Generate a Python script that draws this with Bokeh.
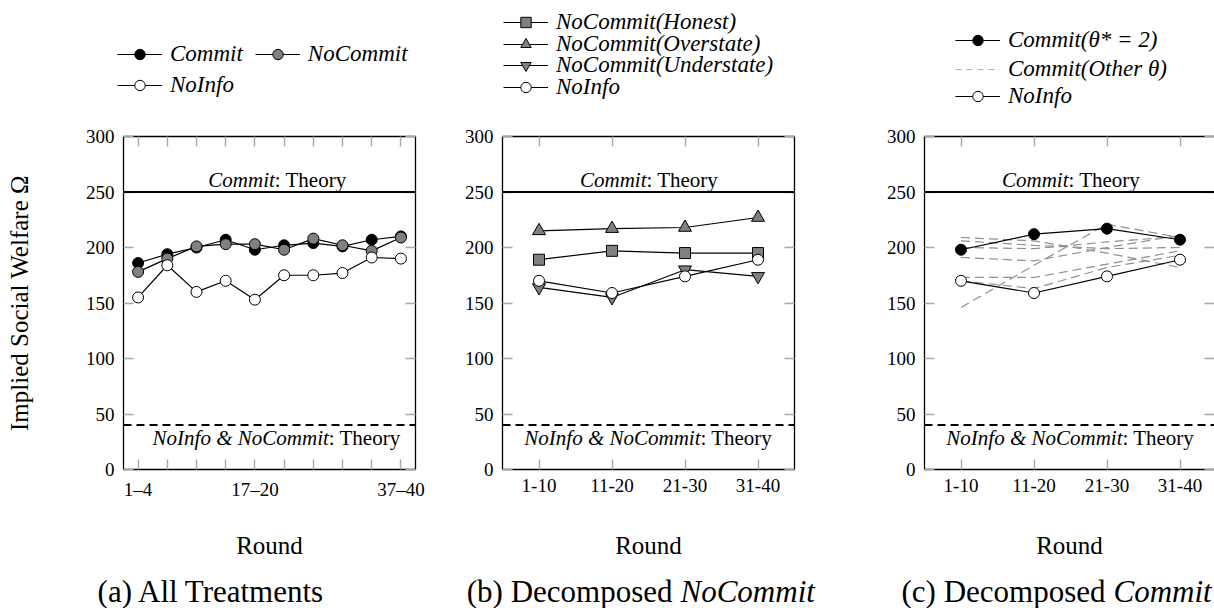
from bokeh.plotting import figure
from bokeh.layouts import row, column
from bokeh.models import LinearAxis, FixedTicker, Range1d, Span, Label, Legend, LegendItem
from bokeh.embed import file_html
from bokeh.resources import INLINE

# ---------------- data ----------------
rounds_a = ["1–4", "5–8", "9–12", "13–16", "17–20", "21–24", "25–28", "29–32", "33–36", "37–40"]
shown_a = ["1–4", "17–20", "37–40"]
commit_a = [186, 194, 200, 207, 198, 202, 204, 201, 207, 210]
nocommit_a = [178, 190, 201, 203, 203, 198, 208, 202, 197, 209]
noinfo_a = [155, 184, 160, 170, 153, 175, 175, 177, 191, 190]

rounds_bc = ["1-10", "11-20", "21-30", "31-40"]
honest_b = [189, 197, 195, 195]
overstate_b = [215, 217, 218, 227]
understate_b = [164, 155, 180, 174]
noinfo_b = [170, 159, 174, 189]

commit_theta2_c = [198, 212, 217, 207]
other_theta_c = [
    [209, 206, 195, 182],
    [206, 202, 199, 200],
    [200, 199, 205, 210],
    [191, 188, 200, 211],
    [173, 173, 185, 197],
    [170, 163, 182, 193],
    [146, 184, 221, 209],
]
noinfo_c = [170, 159, 174, 189]

commit_theory = 250
noinfo_theory = 40
y_ticks = [0, 50, 100, 150, 200, 250, 300]
y_max = 300

# ---------------- style ----------------
FONT = "Liberation Serif"
TICK_C = "#a8a8a8"
GRAY = "#808080"
DASH_C = "#8f8f8f"
W = 1214
LEG_H = 120          # legend strip: page y 0..120
MAIN_H = 450         # main plots: page y 120..570
CAP_H = 38           # caption strip: page y 570..608
FR_TOP, FR_BOTTOM = 136, 469   # page y of the plot frames


def style_axis(ax, show_labels=True, line=True):
    ax.axis_line_color = "black" if line else None
    ax.axis_line_width = 1.3
    ax.major_tick_in = 10
    ax.major_tick_out = 0
    ax.major_tick_line_color = TICK_C
    ax.major_tick_line_width = 1.4
    ax.minor_tick_line_color = None
    ax.major_label_text_font = FONT
    ax.major_label_text_font_style = "normal"
    if show_labels:
        ax.major_label_text_color = "black"
        ax.major_label_text_font_size = "19px"
        ax.major_label_standoff = 9
    else:
        ax.major_label_text_color = None
        ax.major_label_text_font_size = "1px"
        ax.major_label_standoff = 0
    ax.axis_label_text_font = FONT
    ax.axis_label_text_font_style = "normal"
    ax.axis_label_text_font_size = "25px"
    ax.axis_label_text_color = "black"


def blank(fig):
    fig.outline_line_color = None
    fig.background_fill_color = "white"
    fig.border_fill_color = "white"
    fig.grid.visible = False


def panel(width, bl, br, x_end, xs, overrides, ylabel=None, right_line=True, xlab_standoff=36):
    p = figure(width=width, height=MAIN_H, x_range=Range1d(0.5, x_end), y_range=Range1d(0, y_max),
               output_backend="svg", toolbar_location=None,
               x_axis_location=None, y_axis_location=None,
               min_border_left=bl, min_border_right=br,
               min_border_top=FR_TOP - LEG_H, min_border_bottom=LEG_H + MAIN_H - FR_BOTTOM)
    blank(p)

    b = LinearAxis(ticker=FixedTicker(ticks=xs), major_label_overrides=overrides,
                   axis_label="Round", axis_label_standoff=xlab_standoff)
    style_axis(b)
    p.add_layout(b, "below")
    t = LinearAxis(ticker=FixedTicker(ticks=xs))
    style_axis(t, show_labels=False)
    p.add_layout(t, "above")
    l = LinearAxis(ticker=FixedTicker(ticks=y_ticks), axis_label=ylabel, axis_label_standoff=50)
    style_axis(l)
    p.add_layout(l, "left")
    r = LinearAxis(ticker=FixedTicker(ticks=y_ticks))
    style_axis(r, show_labels=False, line=right_line)
    p.add_layout(r, "right")

    p.add_layout(Span(location=commit_theory, dimension="width", line_color="black", line_width=2))
    p.add_layout(Span(location=noinfo_theory, dimension="width", line_color="black",
                      line_width=2, line_dash="8 5"))
    return p


def mixed_label(p, x, y, italic, regular, size, off, italic_first=True, space=0):
    kw = dict(x=x, y=y, text_baseline="middle", text_font=FONT, text_font_size=size,
              text_color="black")
    if italic_first:
        p.add_layout(Label(text=italic, text_align="right", x_offset=off, text_font_style="italic", **kw))
        p.add_layout(Label(text=regular, text_align="left", x_offset=off, text_font_style="normal", **kw))
    else:
        p.add_layout(Label(text=regular, text_align="right", x_offset=off - space, text_font_style="normal", **kw))
        p.add_layout(Label(text=italic, text_align="left", x_offset=off, text_font_style="italic", **kw))


def series(p, xs, ys, marker, fill, size):
    ln = p.line(xs, ys, line_color="black", line_width=1.2)
    sc = p.scatter(xs, ys, marker=marker, size=size, fill_color=fill, line_color="black", line_width=1)
    return [ln, sc]


# ---------------- panel (a) ----------------
xa = list(range(1, len(rounds_a) + 1))
ov_a = {x: (lab if lab in shown_a else "") for x, lab in zip(xa, rounds_a)}
pa = panel(460, 123, 45, len(rounds_a) + 0.5, xa, ov_a, ylabel="Implied Social Welfare Ω",
           xlab_standoff=29)
series(pa, xa, commit_a, "circle", "black", 11)
series(pa, xa, nocommit_a, "circle", GRAY, 11)
series(pa, xa, noinfo_a, "circle", "white", 11)
mixed_label(pa, 5.75, 261, "Commit", ": Theory", "21px", -2)
mixed_label(pa, 5.75, 28, "NoInfo & NoCommit", ": Theory", "21px", 52)

# ---------------- panel (b) ----------------
xb = list(range(1, len(rounds_bc) + 1))
ov_bc = {x: lab for x, lab in zip(xb, rounds_bc)}
pb = panel(420, 42, 86, len(rounds_bc) + 0.5, xb, ov_bc, xlab_standoff=37)
series(pb, xb, honest_b, "square", GRAY, 11)
series(pb, xb, overstate_b, "triangle", GRAY, 13)
series(pb, xb, understate_b, "inverted_triangle", GRAY, 13)
series(pb, xb, noinfo_b, "circle", "white", 11)
mixed_label(pb, 2.5, 261, "Commit", ": Theory", "21px", -2)
mixed_label(pb, 2.5, 28, "NoInfo & NoCommit", ": Theory", "21px", 52)

# ---------------- panel (c) ----------------
xc = list(range(1, len(rounds_bc) + 1))
pc = panel(334, 44, 0, 0.5 + 290 / 73.0, xc, ov_bc, right_line=False, xlab_standoff=37)
pc.multi_line([xc] * len(other_theta_c), other_theta_c, line_color=DASH_C,
              line_width=1.2, line_dash="9 5")
series(pc, xc, commit_theta2_c, "circle", "black", 11)
series(pc, xc, noinfo_c, "circle", "white", 11)
mixed_label(pc, 2.5, 261, "Commit", ": Theory", "21px", -2)
mixed_label(pc, 2.5, 28, "NoInfo & NoCommit", ": Theory", "21px", 52)

# ---------------- legend strip (page y 0..120) ----------------
# Its renderers hold the same series; their values lie above this strip's
# 0..120 range, so only the legend swatches show.
leg = figure(width=W, height=LEG_H, x_range=Range1d(0, W), y_range=Range1d(0, LEG_H),
             output_backend="svg", toolbar_location=None,
             x_axis_location=None, y_axis_location=None,
             min_border_left=0, min_border_right=0, min_border_top=0, min_border_bottom=0)
blank(leg)


def swatch(xs, ys, marker, fill):
    return [leg.line(xs, ys, line_color="black", line_width=1.2),
            leg.scatter(xs, ys, marker=marker, size=10, fill_color=fill,
                        line_color="black", line_width=1)]


def add_legend(entries, x, cy, spacing=12):
    items = [LegendItem(label=lab, renderers=rs) for lab, rs in entries]
    lg = Legend(items=items, location=(x, LEG_H - (cy + 13)), orientation="horizontal",
                padding=0, margin=0, spacing=spacing, border_line_color=None,
                background_fill_alpha=0, glyph_width=45, glyph_height=26, label_height=26,
                label_standoff=8, label_text_font=FONT, label_text_font_style="italic",
                label_text_font_size="23px", label_text_color="black")
    leg.add_layout(lg)


add_legend([("Commit", swatch(xa, commit_a, "circle", "black")),
            ("NoCommit", swatch(xa, nocommit_a, "circle", GRAY))], 117, 54)
add_legend([("NoInfo", swatch(xa, noinfo_a, "circle", "white"))], 117, 85)

add_legend([("NoCommit(Honest)", swatch(xb, honest_b, "square", GRAY))], 503, 22)
add_legend([("NoCommit(Overstate)", swatch(xb, overstate_b, "triangle", GRAY))], 503, 44)
add_legend([("NoCommit(Understate)", swatch(xb, understate_b, "inverted_triangle", GRAY))], 503, 65)
add_legend([("NoInfo", swatch(xb, noinfo_b, "circle", "white"))], 503, 87)

other_sw = leg.multi_line([xc] * len(other_theta_c), other_theta_c, line_color="#b0b0b0",
                          line_width=1.2, line_dash="6 5")
add_legend([("Commit(θ* = 2)", swatch(xc, commit_theta2_c, "circle", "black"))], 955, 40)
add_legend([("Commit(Other θ)", [other_sw])], 955, 69)
add_legend([("NoInfo", swatch(xc, noinfo_c, "circle", "white"))], 955, 96)

# ---------------- caption strip (page y 570..608) ----------------
cap = figure(width=W, height=CAP_H, x_range=Range1d(0, W), y_range=Range1d(0, CAP_H),
             output_backend="svg", toolbar_location=None,
             x_axis_location=None, y_axis_location=None,
             min_border_left=0, min_border_right=0, min_border_top=0, min_border_bottom=0)
blank(cap)
cy_cap = LEG_H + MAIN_H + CAP_H - 591
cap.add_layout(Label(x=211, y=cy_cap, text="(a) All Treatments", text_align="center",
                     text_baseline="middle", text_font=FONT, text_font_size="31px",
                     text_color="black"))
# join points: caption centre - half width + width of the upright part + space
mixed_label(cap, 680, cy_cap, "NoCommit", "(b) Decomposed", "31px", 0, italic_first=False, space=8)
mixed_label(cap, 1113, cy_cap, "Commit", "(c) Decomposed", "31px", 0, italic_first=False, space=8)

layout = column(leg, row(pa, pb, pc), cap)
open("out.html", "w").write(file_html(layout, INLINE))
